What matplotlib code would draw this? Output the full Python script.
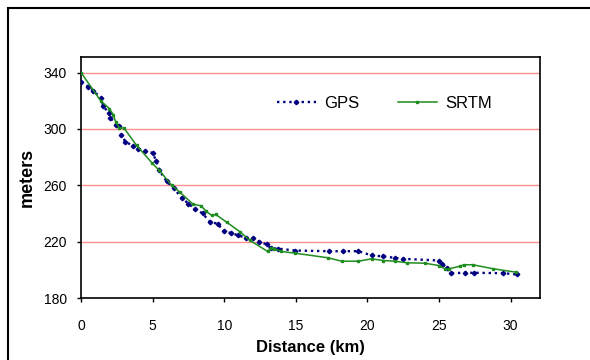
import matplotlib
matplotlib.use("Agg")
import matplotlib.pyplot as plt
from matplotlib.patches import Rectangle

plt.rcParams['font.family'] = ['Liberation Sans', 'DejaVu Sans']

gps_x = [0, 0.5, 0.86, 1.4, 1.56, 1.93, 2.05, 2.44, 2.63, 2.8, 3.1, 3.6, 3.98, 4.49, 5.0,
         5.26, 5.47, 5.98, 6.47, 7.03, 7.5, 7.98, 8.5, 9.0, 9.55, 9.96, 10.5, 10.99, 11.5,
         12.0, 12.45, 12.97, 13.25, 13.78, 14.94, 17.34, 18.3, 19.36, 20.3, 21.1, 21.93,
         22.5, 25.0, 25.2, 25.54, 25.84, 26.82, 27.44, 29.5, 30.43]
gps_y = [333, 330, 327, 322, 316, 311.5, 308, 303, 302, 296, 291, 288, 285.7, 284, 283,
         277, 270.5, 262.7, 258, 251, 247, 243, 240, 234, 232.7, 227.4, 226, 224.4, 222.8,
         222.3, 220, 218, 215.4, 215, 213.7, 213.2, 213.2, 213.2, 210.2, 209.5, 208.5,
         207.8, 206.6, 204.3, 201.4, 197.6, 197.9, 197.9, 197.6, 196.7]

srtm_x = [0, 1.37, 1.98, 2.26, 2.42, 2.68, 3.0, 3.88, 4.94, 5.47, 6.33, 6.91, 7.84, 8.38,
          8.73, 9.13, 9.4, 10.17, 11.1, 11.8, 13.04, 13.25, 13.5, 14.0, 14.94, 17.27, 18.2,
          19.36, 20.3, 21.1, 21.93, 22.74, 24.0, 25.0, 25.4, 25.7, 26.47, 26.74, 27.35,
          28.8, 30.38]
srtm_y = [340, 320, 314.4, 310, 305, 300.6, 300.6, 288.3, 276, 270.5, 260, 255, 246.4,
          245.5, 241.6, 238.6, 239.3, 233.8, 227, 220.8, 213, 215.6, 215, 213, 211.8, 208.5,
          206.1, 206.1, 207.8, 206.6, 206.1, 205, 204.7, 203, 200.7, 200.7, 202.6, 203.6,
          203.6, 200.7, 198.3]

x_ticks = [0, 5, 10, 15, 20, 25, 30]
y_ticks = [180, 220, 260, 300, 340]

W, H = 590, 360
fig = plt.figure(figsize=(W / 100, H / 100), dpi=100)
fig.patch.set_facecolor('white')

# outer chart border
fig.patches.append(Rectangle((8 / W, -0.2), 1.2, (H - 8) / H + 0.2, transform=fig.transFigure,
                             fill=False, edgecolor='black', linewidth=1.5, clip_on=False))

ax = fig.add_axes([81 / W, (H - 298) / H, (540 - 81) / W, (298 - 57) / H])
ax.set_xlim(0, 32.05)
ax.set_ylim(180, 351)

for yv in y_ticks[1:]:
    ax.axhline(yv, color='#FF9090', linewidth=1.0, zorder=1)

ax.plot(gps_x, gps_y, color='#000080', linestyle=(0, (1.0, 1.6)), linewidth=1.7,
        marker='D', markersize=2.3, label='GPS', zorder=3)
ax.plot(srtm_x, srtm_y, color='#1E8C1E', linestyle='-', linewidth=1.1,
        marker='s', markersize=1.8, label='SRTM', zorder=4)

ax.set_xticks(x_ticks)
ax.set_yticks(y_ticks)
ax.tick_params(axis='both', direction='out', length=3, width=1, labelsize=10, colors='black')
ax.tick_params(axis='x', pad=12)
ax.tick_params(axis='y', pad=7)
for s in ax.spines.values():
    s.set_color('black')
    s.set_linewidth(1.2)

ax.set_xlabel('Distance (km)', fontsize=12, fontweight='bold', labelpad=5)
ax.set_ylabel('meters', fontsize=13, fontweight='bold', labelpad=6)

ax.legend(ncol=2, frameon=False, loc='center left', bbox_to_anchor=(0.412, 0.809),
          borderaxespad=0, fontsize=12, handlelength=2.33, columnspacing=2.3,
          handletextpad=0.52)

fig.savefig('out.png', dpi=100, facecolor='white')
